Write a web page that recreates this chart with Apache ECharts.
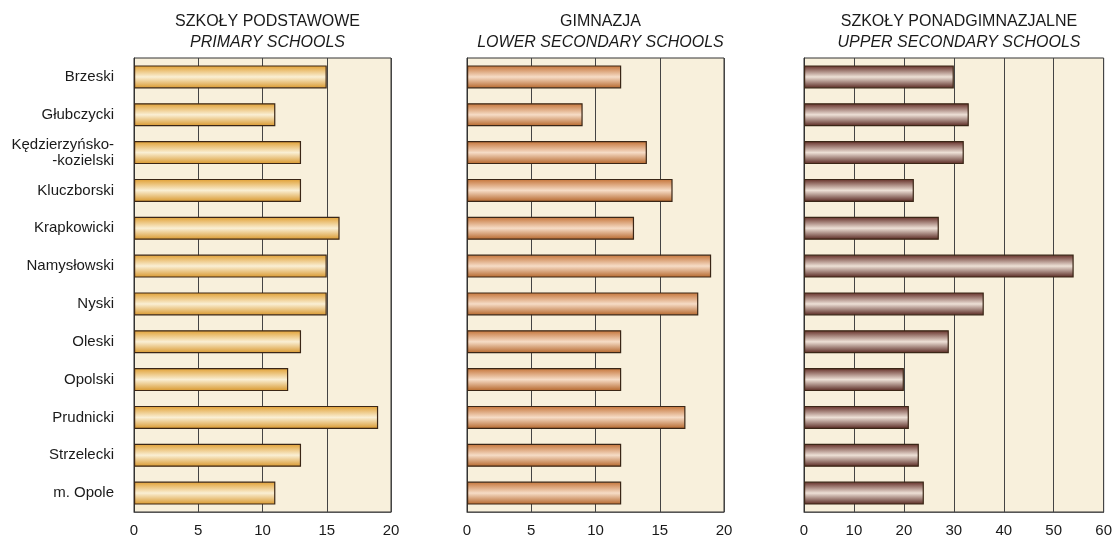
<!DOCTYPE html>
<html>
<head>
<meta charset="utf-8">
<script src="https://cdn.jsdelivr.net/npm/echarts@6/dist/echarts.min.js"></script>
<style>
html,body{margin:0;padding:0;background:#fff;}
#chart{width:1115px;height:541px;}
</style>
</head>
<body>
<div id="chart"></div>
<script>
const categories = ["Brzeski","Głubczycki","Kędzierzyńsko-\n-kozielski","Kluczborski","Krapkowicki","Namysłowski","Nyski","Oleski","Opolski","Prudnicki","Strzelecki","m. Opole"];
const primary = [15,11,13,13,16,15,15,13,12,19,13,11];
const lowerSecondary = [12,9,14,16,13,19,18,12,12,17,12,12];
const upperSecondary = [30,33,32,22,27,54,36,29,20,21,23,24];
const titlesPl = ["SZKOŁY PODSTAWOWE","GIMNAZJA","SZKOŁY PONADGIMNAZJALNE"];
const titlesEn = ["PRIMARY SCHOOLS","LOWER SECONDARY SCHOOLS","UPPER SECONDARY SCHOOLS"];
const xMax = [20,20,60];
const xInterval = [5,5,10];

const chart = echarts.init(document.getElementById('chart'));
const grids = [
  {left:134, width:257},
  {left:467, width:257},
  {left:804, width:300}
];
const palettes = [
  ['#e09e30','#faefd4','#d8962a'],
  ['#c47236','#f6dcc6','#b46428'],
  ['#612b24','#ede0d6','#55241d']
];
const seriesData = [primary, lowerSecondary, upperSecondary];
const font = 'Liberation Sans, Arial, sans-serif';

const option = {
  animation:false,
  title: grids.map((g,i)=>({
    text: titlesPl[i],
    subtext: titlesEn[i],
    left: g.left + g.width/2,
    textAlign:'center',
    top: 9,
    itemGap: 5,
    textStyle:{fontFamily:font,fontSize:16,fontWeight:'normal',color:'#1a1a1a'},
    subtextStyle:{fontFamily:font,fontSize:16,fontStyle:'italic',color:'#1a1a1a'}
  })),
  grid: grids.map(g=>({left:g.left,width:g.width,top:58,height:454,show:true,backgroundColor:'#f8f0dc',borderColor:'#333',borderWidth:1})),
  xAxis: grids.map((g,i)=>({
    gridIndex:i,type:'value',min:0,max:xMax[i],interval:xInterval[i],
    axisLine:{show:true,lineStyle:{color:'#555'}},
    axisTick:{show:false},
    axisLabel:{fontFamily:font,fontSize:15,color:'#1a1a1a',margin:11},
    splitLine:{show:true,lineStyle:{color:'#444',width:1}}
  })),
  yAxis: grids.map((g,i)=>({
    gridIndex:i,type:'category',data:categories,inverse:true,
    axisLine:{show:true,lineStyle:{color:'#333'}},
    axisTick:{show:false},
    axisLabel:{show:i===0,fontFamily:font,fontSize:15,color:'#1a1a1a',margin:20,lineHeight:16}
  })),
  series: seriesData.map((d,i)=>({
    type:'bar',xAxisIndex:i,yAxisIndex:i,data:d,barWidth:23,
    itemStyle:{
      borderColor:'#3a2616',borderWidth:1.2,
      color:new echarts.graphic.LinearGradient(0,0,0,1,[
        {offset:0,color:palettes[i][0]},
        {offset:0.5,color:palettes[i][1]},
        {offset:1,color:palettes[i][2]}
      ])
    }
  }))
};
chart.setOption(option);
</script>
</body>
</html>
